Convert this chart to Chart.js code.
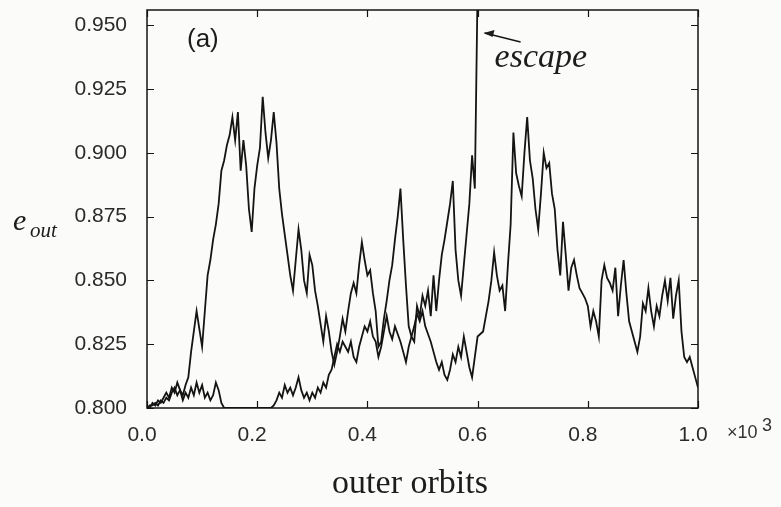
<!DOCTYPE html>
<html>
<head>
<meta charset="utf-8">
<script src="https://cdn.jsdelivr.net/npm/chart.js@4"></script>
<style>
  html, body { margin: 0; padding: 0; background: #fbfbf9; }
</style>
</head>
<body>
<canvas id="grafico" width="781" height="507"></canvas>
<script>
// orbits sampled every 5 outer orbits
const paso = 5
const orbitasTicks = [0, 200, 400, 600, 800, 1000]
const eTicks = [0.800, 0.825, 0.850, 0.875, 0.900, 0.925, 0.950]

// run that escapes at ~600 orbits
const corridaEscape = [
    0.800, 0.801, 0.801, 0.802, 0.801, 0.803, 0.802, 0.804, 0.803, 0.806,
    0.808, 0.805, 0.807, 0.805, 0.809, 0.812, 0.822, 0.830, 0.838, 0.831,
    0.824, 0.838, 0.852, 0.858, 0.866, 0.872, 0.880, 0.893, 0.897, 0.903,
    0.907, 0.914, 0.905, 0.916, 0.893, 0.905, 0.895, 0.878, 0.869, 0.886,
    0.895, 0.902, 0.922, 0.908, 0.898, 0.905, 0.916, 0.904, 0.886, 0.876,
    0.868, 0.860, 0.852, 0.846, 0.858, 0.870, 0.862, 0.850, 0.845, 0.860,
    0.856, 0.846, 0.840, 0.833, 0.826, 0.836, 0.830, 0.822, 0.817, 0.822,
    0.828, 0.835, 0.830, 0.838, 0.845, 0.849, 0.845, 0.856, 0.865, 0.858,
    0.852, 0.854, 0.845, 0.838, 0.824, 0.826, 0.835, 0.842, 0.850, 0.856,
    0.866, 0.875, 0.886, 0.866, 0.848, 0.832, 0.828, 0.826, 0.840, 0.836,
    0.844, 0.840, 0.846, 0.836, 0.852, 0.838, 0.850, 0.860, 0.866, 0.873,
    0.880, 0.889, 0.862, 0.850, 0.844, 0.856, 0.868, 0.880, 0.899, 0.886,
    0.965
]

// run that stays bound up to 1000 orbits
const corridaLigada = [
    0.800, 0.800, 0.802, 0.801, 0.803, 0.802, 0.804, 0.806, 0.804, 0.808,
    0.806, 0.810, 0.807, 0.803, 0.806, 0.804, 0.808, 0.805, 0.810, 0.806,
    0.809, 0.804, 0.806, 0.803, 0.805, 0.810, 0.807, 0.802, 0.800, 0.800,
    0.800, 0.800, 0.800, 0.800, 0.800, 0.800, 0.800, 0.800, 0.800, 0.800,
    0.800, 0.800, 0.800, 0.800, 0.800, 0.800, 0.801, 0.803, 0.806, 0.804,
    0.809, 0.806, 0.808, 0.805, 0.808, 0.812, 0.807, 0.804, 0.806, 0.803,
    0.806, 0.804, 0.808, 0.806, 0.810, 0.808, 0.813, 0.815, 0.820, 0.825,
    0.822, 0.826, 0.824, 0.822, 0.826, 0.820, 0.818, 0.824, 0.828, 0.832,
    0.830, 0.834, 0.828, 0.826, 0.820, 0.824, 0.830, 0.836, 0.830, 0.827,
    0.832, 0.829, 0.826, 0.822, 0.818, 0.824, 0.828, 0.832, 0.837, 0.834,
    0.838, 0.832, 0.829, 0.826, 0.822, 0.818, 0.815, 0.818, 0.813, 0.811,
    0.815, 0.821, 0.818, 0.824, 0.820, 0.828, 0.822, 0.816, 0.812, 0.820,
    0.828, 0.829, 0.830, 0.836, 0.842, 0.850, 0.861, 0.852, 0.846, 0.848,
    0.838, 0.856, 0.872, 0.908, 0.892, 0.887, 0.883, 0.900, 0.914, 0.897,
    0.890, 0.878, 0.870, 0.884, 0.900, 0.894, 0.896, 0.884, 0.878, 0.862,
    0.852, 0.873, 0.860, 0.846, 0.855, 0.858, 0.852, 0.847, 0.845, 0.843,
    0.840, 0.832, 0.838, 0.834, 0.828, 0.850, 0.856, 0.851, 0.849, 0.846,
    0.855, 0.836, 0.848, 0.858, 0.845, 0.834, 0.830, 0.826, 0.822, 0.828,
    0.841, 0.838, 0.847, 0.838, 0.832, 0.840, 0.836, 0.844, 0.850, 0.842,
    0.851, 0.835, 0.844, 0.850, 0.830, 0.820, 0.818, 0.820, 0.816, 0.812,
    0.808
]

const aPuntos = (serie) => serie.map((e, i) => ({ x: i * paso, y: e }))

const tinta = '#141414'
const sans = '"Liberation Sans", Arial, sans-serif'
const serif = '"Liberation Serif", "Times New Roman", serif'

// frame, inward ticks on all four sides and the text annotations
const marco = {
    id: 'marco',
    afterDatasetsDraw(chart) {
        const { ctx, chartArea: a, scales: { x, y } } = chart
        ctx.save()
        ctx.strokeStyle = tinta
        ctx.lineWidth = 1.5
        ctx.strokeRect(a.left, a.top, a.right - a.left, a.bottom - a.top)

        ctx.lineWidth = 1.2
        ctx.beginPath()
        eTicks.forEach(v => {
            const py = Math.round(y.getPixelForValue(v)) + 0.5
            ctx.moveTo(a.left, py); ctx.lineTo(a.left + 7, py)
            ctx.moveTo(a.right, py); ctx.lineTo(a.right - 7, py)
        })
        orbitasTicks.forEach(v => {
            const px = Math.round(x.getPixelForValue(v)) + 0.5
            ctx.moveTo(px, a.bottom); ctx.lineTo(px, a.bottom - 7)
            ctx.moveTo(px, a.top); ctx.lineTo(px, a.top + 7)
        })
        ctx.stroke()

        ctx.fillStyle = '#1c1c1c'
        ctx.textBaseline = 'alphabetic'

        ctx.font = '26px ' + sans
        ctx.fillText('(a)', 187, 47)

        // escape label with its arrow
        const xe = x.getPixelForValue(600)
        ctx.font = 'italic 34px ' + serif
        ctx.fillText('escape', xe + 17, 67)
        ctx.lineWidth = 1.4
        ctx.beginPath()
        ctx.moveTo(xe + 43, 42)
        ctx.lineTo(xe + 7, 33)
        ctx.stroke()
        ctx.beginPath()
        ctx.moveTo(xe + 6, 33)
        ctx.lineTo(xe + 17, 30)
        ctx.lineTo(xe + 15, 37)
        ctx.closePath()
        ctx.fill()

        // y title e_out
        ctx.font = 'italic 30px ' + serif
        ctx.fillText('e', 13, 230)
        ctx.font = 'italic 21px ' + serif
        ctx.fillText('out', 30, 237)

        // x title and multiplier
        ctx.font = '34px ' + serif
        ctx.textAlign = 'center'
        ctx.fillText('outer orbits', 410, 493)
        ctx.textAlign = 'left'
        ctx.fillStyle = '#333'
        ctx.font = '18px ' + sans
        ctx.fillText('×10', 727, 438)
        ctx.fillText('3', 762, 431)
        ctx.restore()
    }
}

const lienzo = document.getElementById('grafico').getContext('2d')

new Chart(lienzo, {
    type: 'line',
    data: {
        datasets: [
            {
                data: aPuntos(corridaEscape),
                borderColor: tinta,
                borderWidth: 1.8,
                pointRadius: 0,
                tension: 0
            },
            {
                data: aPuntos(corridaLigada),
                borderColor: tinta,
                borderWidth: 1.8,
                pointRadius: 0,
                tension: 0
            }
        ]
    },
    options: {
        responsive: false,
        animation: false,
        layout: { padding: { top: 10, right: 83, left: 0, bottom: 0 } },
        plugins: { legend: { display: false }, tooltip: { enabled: false } },
        scales: {
            x: {
                type: 'linear',
                min: 0,
                max: 1000,
                afterFit: s => {
                    s.height = 99
                    s.paddingLeft = 0
                    s.paddingRight = 0
                },
                afterBuildTicks: s => { s.ticks = orbitasTicks.map(v => ({ value: v })) },
                grid: { display: false, drawTicks: false },
                border: { display: false },
                ticks: {
                    padding: 15,
                    labelOffset: -5,
                    maxRotation: 0,
                    color: '#2a2a2a',
                    font: { family: sans, size: 21 },
                    callback: v => (v / 1000).toFixed(1)
                }
            },
            y: {
                min: 0.8,
                max: 0.956,
                afterFit: s => {
                    s.width = 147
                    s.paddingTop = 0
                    s.paddingBottom = 0
                },
                afterBuildTicks: s => { s.ticks = eTicks.map(v => ({ value: v })) },
                grid: { display: false, drawTicks: false },
                border: { display: false },
                ticks: {
                    padding: 20,
                    color: '#2a2a2a',
                    font: { family: sans, size: 21 },
                    callback: v => v.toFixed(3)
                }
            }
        }
    },
    plugins: [marco]
})
</script>
</body>
</html>
